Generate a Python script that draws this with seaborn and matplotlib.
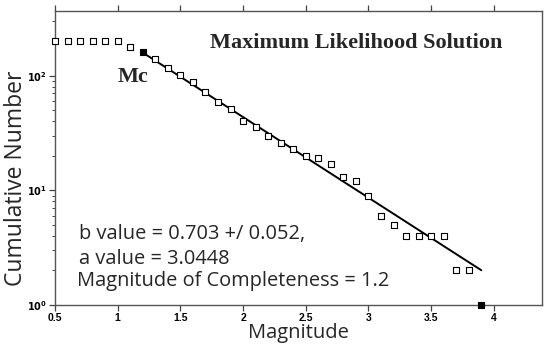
import numpy as np
import pandas as pd
import matplotlib
matplotlib.use("Agg")
import matplotlib.pyplot as plt
import seaborn as sns
from matplotlib.ticker import FixedLocator, LogLocator, NullFormatter, FuncFormatter

# Frequency-magnitude distribution (cumulative counts)
magnitude = [0.5, 0.6, 0.7, 0.8, 0.9, 1.0, 1.1, 1.2, 1.3, 1.4, 1.5, 1.6, 1.7, 1.8,
             1.9, 2.0, 2.1, 2.2, 2.3, 2.4, 2.5, 2.6, 2.7, 2.8, 2.9, 3.0, 3.1, 3.2,
             3.3, 3.4, 3.5, 3.6, 3.7, 3.8, 3.9]
cumulative = [200, 200, 200, 200, 200, 200, 178, 160, 140, 116, 102, 88, 72, 59,
              51, 40, 36, 30, 26, 23, 20, 19, 17, 13, 12, 9, 6, 5,
              4, 4, 4, 4, 2, 2, 1]

# Maximum likelihood Gutenberg-Richter fit
b_value = 0.703
b_error = 0.052
a_value = 3.0448
mc = 1.2
m_max = 3.9

x_ticks = [0.5, 1, 1.5, 2, 2.5, 3, 3.5, 4]
x_tick_labels = ["0.5", "1", "1.5", "2", "2.5", "3", "3.5", "4"]

df = pd.DataFrame({"Magnitude": magnitude, "N": cumulative})
df["filled"] = df["Magnitude"].round(1).isin([mc, m_max])

fit_m = np.linspace(mc, m_max, 50)
fit_df = pd.DataFrame({"Magnitude": fit_m, "N": 10 ** (a_value - b_value * fit_m)})

sns.set_style("ticks")
plt.rcParams["font.family"] = ["Liberation Sans", "DejaVu Sans"]

fig = plt.figure(figsize=(5.44, 3.49), dpi=100)
ax = fig.add_axes([55 / 544, 1 - 305 / 349, (542 - 55) / 544, (305 - 11) / 349])

sns.lineplot(data=fit_df, x="Magnitude", y="N", ax=ax, color="black", lw=1.4)
sns.scatterplot(data=df[~df["filled"]], x="Magnitude", y="N", ax=ax, marker="s",
                s=18, facecolor="white", edgecolor="black", linewidth=0.8, zorder=3,
                clip_on=False)
sns.scatterplot(data=df[df["filled"]], x="Magnitude", y="N", ax=ax, marker="s",
                s=18, color="black", edgecolor="black", linewidth=0.8, zorder=4,
                clip_on=False)

ax.set_yscale("log")
ax.set_xlim(0.5, 4.384)
ax.set_ylim(1, 10 ** 2.564)

ax.xaxis.set_major_locator(FixedLocator(x_ticks))
ax.set_xticklabels(x_tick_labels)
ax.yaxis.set_major_locator(LogLocator(base=10, numticks=10))
ax.yaxis.set_minor_locator(LogLocator(base=10, subs=np.arange(2, 10), numticks=10))
ax.yaxis.set_minor_formatter(NullFormatter())
ax.yaxis.set_major_formatter(FuncFormatter(lambda v, p: r"$\mathbf{10^{%d}}$" % round(np.log10(v))))

for lab in ax.get_xticklabels():
    lab.set_fontweight("bold")
ax.tick_params(axis="x", which="major", direction="out", length=4, width=0.9,
               labelsize=7.5, pad=2, colors="#444444", labelcolor="black",
               top=True)
ax.tick_params(axis="y", which="major", direction="out", length=4, width=0.9,
               labelsize=7, pad=2, colors="#444444", labelcolor="black")
ax.tick_params(axis="y", which="minor", direction="out", length=2, width=0.7,
               colors="#444444")
for side in ["left", "bottom", "top", "right"]:
    ax.spines[side].set_visible(True)
    ax.spines[side].set_color("#555555")
    ax.spines[side].set_linewidth(1.0)

label_font = ["Open Sans", "DejaVu Sans"]
ax.set_xlabel("Magnitude", fontsize=14.5, family=label_font, labelpad=0)
ax.set_ylabel("Cumulative Number", fontsize=16.5, family=label_font, va="center")
ax.yaxis.set_label_coords(-0.080, 0.43)

ax.text(0.318, 0.892, "Maximum Likelihood Solution", transform=ax.transAxes,
        fontsize=16, fontweight="bold", family=["Liberation Serif", "DejaVu Serif"],
        ha="left", va="center")
ax.text(0.129, 0.776, "Mc", transform=ax.transAxes, fontsize=16, fontweight="bold",
        family=["Liberation Serif", "DejaVu Serif"], ha="left", va="center")

ax.text(0.049, 0.241, f"b value = {b_value:.3f} +/ {b_error:.3f},", transform=ax.transAxes,
        fontsize=14.4, family=label_font, ha="left", va="center")
ax.text(0.049, 0.156, f"a value = {a_value:.4f}", transform=ax.transAxes,
        fontsize=14.4, family=label_font, ha="left", va="center")
ax.text(0.045, 0.081, f"Magnitude of Completeness = {mc:.1f}", transform=ax.transAxes,
        fontsize=14.4, family=label_font, ha="left", va="center")

fig.savefig("out.png", dpi=100)
